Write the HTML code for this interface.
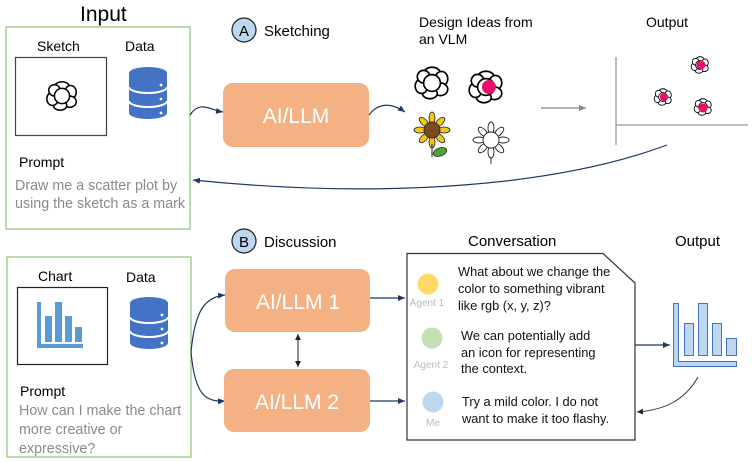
<!DOCTYPE html>
<html><head><meta charset="utf-8"><style>
html,body{margin:0;padding:0;background:#fff}
svg{display:block}
text{font-family:"Liberation Sans",sans-serif}
.g{fill:#8a8a8a;font-size:14.3px}
.c{font-size:12.8px;fill:#111}
</style></head><body>
<svg width="753" height="462" viewBox="0 0 753 462" xmlns="http://www.w3.org/2000/svg">
<defs>
<marker id="ah" markerWidth="8" markerHeight="8" refX="7" refY="4" orient="auto" markerUnits="userSpaceOnUse"><path d="M0,1 L7,4 L0,7 z" fill="#1f3864"/></marker>
<marker id="ag" markerWidth="8" markerHeight="8" refX="7" refY="4" orient="auto" markerUnits="userSpaceOnUse"><path d="M0,1 L7,4 L0,7 z" fill="#888"/></marker>
<marker id="ak" markerWidth="7" markerHeight="7" refX="6" refY="3.5" orient="auto-start-reverse" markerUnits="userSpaceOnUse"><path d="M0,0.5 L6,3.5 L0,6.5 z" fill="#222"/></marker>
<g id="fl">
<ellipse cx="0" cy="-9" rx="8" ry="6" fill="#fff" stroke="#000" stroke-width="1.6"/>
<ellipse cx="9" cy="-4" rx="6" ry="7" fill="#fff" stroke="#000" stroke-width="1.6"/>
<ellipse cx="8" cy="6" rx="7" ry="6" fill="#fff" stroke="#000" stroke-width="1.6"/>
<ellipse cx="-2" cy="10" rx="7" ry="5" fill="#fff" stroke="#000" stroke-width="1.6"/>
<ellipse cx="-10" cy="3" rx="6" ry="7" fill="#fff" stroke="#000" stroke-width="1.6"/>
<ellipse cx="-8" cy="-6" rx="6" ry="6" fill="#fff" stroke="#000" stroke-width="1.6"/>
<circle cx="0" cy="0" r="8" fill="#fff" stroke="#000" stroke-width="1.6"/>
</g>
<g id="db">
<path d="M0,6 v40 a19,6 0 0 0 38,0 v-40" fill="#4472c4"/>
<ellipse cx="19" cy="6" rx="19" ry="6" fill="#4472c4"/>
<path d="M0,20 a19,6 0 0 0 38,0 M0,34 a19,6 0 0 0 38,0" fill="none" stroke="#fff" stroke-width="2"/>
<circle cx="32" cy="18" r="1.4" fill="#fff"/><circle cx="32" cy="32" r="1.4" fill="#fff"/><circle cx="32" cy="46" r="1.4" fill="#fff"/>
</g>
</defs>

<text x="80" y="21" font-size="21">Input</text>
<rect x="6" y="27" width="184" height="202" fill="none" stroke="#a9d18e" stroke-width="1.5"/>
<text x="37" y="51" font-size="14">Sketch</text>
<rect x="15.5" y="57.5" width="91" height="78" fill="none" stroke="#444" stroke-width="1.2"/>
<use href="#fl" transform="translate(62,96) scale(0.95)"/>
<text x="125" y="51" font-size="14">Data</text>
<use href="#db" transform="translate(129,67)"/>
<text x="19" y="167" font-size="14">Prompt</text>
<text x="15" y="190" class="g">Draw me a scatter plot by</text>
<text x="15" y="208" class="g">using the sketch as a mark</text>

<circle cx="244" cy="30" r="12" fill="#bdd7ee" stroke="#222" stroke-width="1.2"/>
<text x="244" y="36" font-size="15" text-anchor="middle">A</text>
<text x="264" y="36" font-size="15">Sketching</text>

<path d="M190,115 C200,100 210,110 223,112" fill="none" stroke="#1f3864" stroke-width="1.2" marker-end="url(#ah)"/>
<rect x="223" y="83" width="146" height="64" rx="10" fill="#f4b183"/>
<text x="296" y="123" font-size="21" fill="#fff" text-anchor="middle">AI/LLM</text>
<path d="M369,115 C380,100 395,105 405,112" fill="none" stroke="#1f3864" stroke-width="1.2" marker-end="url(#ah)"/>

<text x="419" y="27" font-size="14">Design Ideas from</text>
<text x="419" y="44" font-size="14">an VLM</text>
<use href="#fl" transform="translate(432,83) scale(1.05)"/>
<use href="#fl" transform="translate(486,87) scale(1.05)"/>
<circle cx="489" cy="87" r="7" fill="#ec0c6a"/>
<g transform="translate(432,130)">
<g fill="#f5c518" stroke="#222" stroke-width="0.8">
<ellipse cx="0" cy="-12" rx="3" ry="6"/><ellipse cx="0" cy="12" rx="3" ry="6"/><ellipse cx="-12" cy="0" rx="6" ry="3"/><ellipse cx="12" cy="0" rx="6" ry="3"/>
<ellipse cx="8" cy="-8" rx="3" ry="6" transform="rotate(45 8 -8)"/><ellipse cx="-8" cy="8" rx="3" ry="6" transform="rotate(45 -8 8)"/><ellipse cx="-8" cy="-8" rx="3" ry="6" transform="rotate(-45 -8 -8)"/><ellipse cx="8" cy="8" rx="3" ry="6" transform="rotate(-45 8 8)"/>
</g>
<circle r="8" fill="#7b4a1e" stroke="#222" stroke-width="0.8"/>
<path d="M0,14 V27" stroke="#222" stroke-width="1"/>
<ellipse cx="8" cy="22" rx="7" ry="4" fill="#4aa832" stroke="#222" stroke-width="0.8" transform="rotate(-20 8 22)"/>
</g>
<g transform="translate(491,140)" fill="#fff" stroke="#222" stroke-width="0.9">
<ellipse cx="0" cy="-12" rx="3" ry="6"/><ellipse cx="0" cy="12" rx="3" ry="6"/><ellipse cx="-12" cy="0" rx="6" ry="3"/><ellipse cx="12" cy="0" rx="6" ry="3"/>
<ellipse cx="8" cy="-8" rx="3" ry="6" transform="rotate(45 8 -8)"/><ellipse cx="-8" cy="8" rx="3" ry="6" transform="rotate(45 -8 8)"/><ellipse cx="-8" cy="-8" rx="3" ry="6" transform="rotate(-45 -8 -8)"/><ellipse cx="8" cy="8" rx="3" ry="6" transform="rotate(-45 8 8)"/>
<circle r="8"/><path d="M0,18 V24"/>
</g>
<path d="M541,108 H586" stroke="#888" stroke-width="1.2" marker-end="url(#ag)"/>

<text x="646" y="27" font-size="14">Output</text>
<path d="M616,57 V145 M616,125 H748" stroke="#999" stroke-width="1.3" fill="none"/>
<use href="#fl" transform="translate(700,65) scale(0.55)"/><circle cx="701" cy="65" r="4.5" fill="#ec0c6a"/>
<use href="#fl" transform="translate(663,97) scale(0.55)"/><circle cx="664" cy="97" r="4" fill="#ec0c6a"/>
<use href="#fl" transform="translate(703,107) scale(0.55)"/><circle cx="703" cy="108" r="4.5" fill="#ec0c6a"/>

<path d="M667,145 C560,185 390,200 193,180" fill="none" stroke="#1f3864" stroke-width="1.2" marker-end="url(#ah)"/>

<rect x="7" y="257" width="184" height="200" fill="none" stroke="#a9d18e" stroke-width="1.5"/>
<text x="38" y="281" font-size="14">Chart</text>
<rect x="17.5" y="287.5" width="90" height="77" fill="none" stroke="#222" stroke-width="1.2"/>
<g fill="#5b9bd5">
<rect x="37" y="302" width="4" height="46"/><rect x="37" y="344" width="46" height="4"/>
<rect x="45" y="316" width="7" height="26"/><rect x="55" y="302" width="7" height="40"/><rect x="65" y="316" width="7" height="26"/><rect x="75" y="327" width="7" height="15"/>
</g>
<text x="126" y="282" font-size="14">Data</text>
<use href="#db" transform="translate(130,297)"/>
<text x="20" y="396" font-size="14">Prompt</text>
<text x="19" y="415" class="g">How can I make the chart</text>
<text x="19" y="434" class="g">more creative or</text>
<text x="19" y="453" class="g">expressive?</text>

<circle cx="244" cy="241" r="12" fill="#bdd7ee" stroke="#222" stroke-width="1.2"/>
<text x="244" y="247" font-size="15" text-anchor="middle">B</text>
<text x="264" y="247" font-size="15">Discussion</text>

<path d="M191,352 C195,310 205,297 225,295" fill="none" stroke="#1f3864" stroke-width="1.2" marker-end="url(#ah)"/>
<path d="M191,352 C195,395 205,402 225,401" fill="none" stroke="#1f3864" stroke-width="1.2" marker-end="url(#ah)"/>
<rect x="225" y="269" width="145" height="63" rx="10" fill="#f4b183"/>
<text x="298" y="309" font-size="21" fill="#fff" text-anchor="middle">AI/LLM 1</text>
<rect x="224" y="369" width="146" height="63" rx="10" fill="#f4b183"/>
<text x="297" y="409" font-size="21" fill="#fff" text-anchor="middle">AI/LLM 2</text>
<path d="M298,334 V367" stroke="#222" stroke-width="1" marker-start="url(#ak)" marker-end="url(#ak)"/>
<path d="M370,298 H405" stroke="#1f3864" stroke-width="1.2" marker-end="url(#ah)"/>
<path d="M370,401 H405" stroke="#1f3864" stroke-width="1.2" marker-end="url(#ah)"/>

<text x="468" y="246" font-size="15">Conversation</text>
<path d="M407,253.5 H603 L635,283 V440 H407 Z" fill="#fff" stroke="#333" stroke-width="1.2"/>
<circle cx="428" cy="284" r="10.5" fill="#ffd966"/>
<text x="427" y="306" font-size="10" fill="#bbb" text-anchor="middle">Agent 1</text>
<circle cx="432" cy="338" r="10.5" fill="#c5e0b4"/>
<text x="431" y="368" font-size="10" fill="#bbb" text-anchor="middle">Agent 2</text>
<circle cx="433" cy="402" r="10.5" fill="#bdd7ee"/>
<text x="433" y="426" font-size="10" fill="#bbb" text-anchor="middle">Me</text>
<text x="458" y="276" class="c">What about we change the</text>
<text x="458" y="293" class="c">color to something vibrant</text>
<text x="458" y="310" class="c">like rgb (x, y, z)?</text>
<text x="461" y="340" class="c">We can potentially add</text>
<text x="461" y="357" class="c">an icon for representing</text>
<text x="461" y="373" class="c">the context.</text>
<text x="462" y="406" class="c">Try a mild color. I do not</text>
<text x="462" y="423" class="c">want to make it too flashy.</text>

<text x="675" y="246" font-size="15">Output</text>
<path d="M635,345 H670" stroke="#1f3864" stroke-width="1.2" marker-end="url(#ah)"/>
<g fill="#bdd7ee" stroke="#4472c4" stroke-width="1">
<path d="M673.5,303.5 h5 v58 h58 v5 h-63 z"/>
<rect x="684.5" y="323.5" width="9" height="32"/><rect x="698.5" y="303.5" width="9" height="52"/><rect x="712.5" y="323.5" width="9" height="32"/><rect x="726.5" y="338.5" width="10" height="17"/>
</g>
<path d="M698,377 C685,400 665,410 637,412" fill="none" stroke="#333" stroke-width="1" marker-end="url(#ak)"/>
</svg>
</body></html>
